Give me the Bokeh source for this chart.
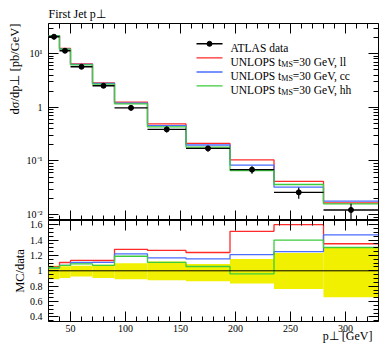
import glob
from bokeh.plotting import figure
from bokeh.layouts import column
from bokeh.models import (Range1d, LinearScale, LogAxis, LinearAxis, FixedTicker,
                          CustomJSTickFormatter, Label, Span, Title)
from bokeh.embed import file_html
from bokeh.resources import INLINE

# ---------------- data ----------------
bin_edges = [30, 40, 50, 70, 90, 120, 155, 195, 235, 280, 330]
atlas_data = [20.8, 11.4, 5.72, 2.53, 0.98, 0.389, 0.172, 0.0690, 0.0260, 0.0122]
atlas_err_up = [1.35, 0.68, 0.37, 0.197, 0.098, 0.0467, 0.0155, 0.0107, 0.0060, 0.0038]
atlas_err_dn = [2.29, 1.08, 0.43, 0.240, 0.108, 0.0475, 0.0232, 0.0114, 0.0062, 0.0042]
mc_ll = [21.84, 12.63, 6.49, 2.87, 1.254, 0.492, 0.213, 0.1045, 0.0416, 0.0165]
mc_cc = [21.63, 12.20, 6.34, 2.81, 1.196, 0.455, 0.1987, 0.0835, 0.0325, 0.0179]
mc_hh = [21.63, 12.20, 6.23, 2.71, 1.166, 0.432, 0.1816, 0.0662, 0.0364, 0.0159]
mc_series = [mc_ll, mc_cc, mc_hh]
mc_tags = ["ll", "cc", "hh"]
mc_colors = ["#ff2a2a", "#4a6cff", "#3ccc3c"]

x_major_ticks = [50, 100, 150, 200, 250, 300]
x_minor_ticks = [30, 40, 50, 60, 70, 80, 90, 100, 110, 120, 130, 140, 150, 160, 170, 180,
                 190, 200, 210, 220, 230, 240, 250, 260, 270, 280, 290, 300, 310, 320, 330]
y_major_ticks = [0.01, 0.1, 1, 10]
y_minor_ticks = [m * d for d in (0.001, 0.01, 0.1, 1, 10) for m in range(2, 10)]
ratio_major_ticks = [0.4, 0.6, 0.8, 1.0, 1.2, 1.4, 1.6]
ratio_minor_ticks = [0.35, 0.4, 0.45, 0.5, 0.55, 0.6, 0.65, 0.7, 0.75, 0.8, 0.85, 0.9, 0.95, 1.0,
                     1.05, 1.1, 1.15, 1.2, 1.25, 1.3, 1.35, 1.4, 1.45, 1.5, 1.55, 1.6, 1.65]

title_text = "First Jet p⊥"
ylabel_main = "dσ/dp⊥ [pb/GeV]"
ylabel_ratio = "MC/data"
xlabel_text = "p⊥ [GeV]"

# ---------------- style / layout ----------------
FONT = "Liberation Serif"
W = 382
BL, BR = 48, 4
H1, T1 = 220, 23
H2, B2 = 130, 29
FW = W - BL - BR
FH1 = H1 - T1
LEG_FS = 11.5
LEG_SUB = 8

def _find(name):
    hits = glob.glob("/usr/share/fonts/**/" + name, recursive=True)
    return hits[0] if hits else None

_fonts = {}
try:
    from PIL import ImageFont
    for key, fname in [("r", "LiberationSerif-Regular.ttf"), ("i", "LiberationSerif-Italic.ttf"),
                       ("s", "DejaVuSans.ttf")]:
        path = _find(fname)
        if path:
            _fonts[key] = ImageFont.truetype(path, 200)
except Exception:
    _fonts = {}

def tw(s, size, italic=False):
    total = 0.0
    for ch in s:
        key = "s" if ch in "⊥" else ("i" if italic else "r")
        f = _fonts.get(key) or _fonts.get("r")
        if f is not None:
            total += f.getlength(ch) * size / 200.0
        else:
            total += 0.5 * size
    return total

def place_runs(p, x, y, runs, align="left"):
    if align == "right":
        x -= sum(tw(t, s, it) for t, s, it, dy in runs)
    for t, s, it, dy in runs:
        p.add_layout(Label(x=x, y=y + dy, x_units="screen", y_units="screen", text=t,
                           text_font=FONT, text_font_size=f"{s}px",
                           text_font_style="italic" if it else "normal",
                           text_align="left", text_baseline="alphabetic", text_color="black"))
        x += tw(t, s, it)

log_fmt = CustomJSTickFormatter(code="""
const e = Math.round(Math.log10(tick));
if (e === 0) { return "1"; }
const m = {"-":"\\u207b","0":"\\u2070","1":"\\u00b9","2":"\\u00b2","3":"\\u00b3","4":"\\u2074",
           "5":"\\u2075","6":"\\u2076","7":"\\u2077","8":"\\u2078","9":"\\u2079"};
return "10" + String(e).split("").map(c => m[c]).join("");
""")
ratio_fmt = CustomJSTickFormatter(code="""
return Math.abs(tick - 1) < 1e-6 ? "1" : tick.toFixed(1);
""")

def style_axis(ax, ticker, labels=True, fmt=None):
    ax.ticker = ticker
    ax.axis_line_color = None
    ax.major_tick_in = 10
    ax.major_tick_out = 0
    ax.minor_tick_in = 5
    ax.minor_tick_out = 0
    ax.major_tick_line_color = "black"
    ax.minor_tick_line_color = "black"
    ax.major_tick_line_width = 1
    ax.minor_tick_line_width = 1
    if labels:
        ax.major_label_text_font = FONT
        ax.major_label_text_font_size = "10px"
        ax.major_label_text_color = "black"
        if fmt is not None:
            ax.formatter = fmt
    else:
        ax.major_label_text_font_size = "1px"
        ax.major_label_text_alpha = 0
        ax.major_label_standoff = 0

def make_title(text, align, standoff=0, offset=0, size="12.5px"):
    return Title(text=text, align=align, standoff=standoff, offset=offset, text_font=FONT,
                 text_font_size=size, text_font_style="normal", text_color="black")

# ---------------- main panel ----------------
p1 = figure(width=W, height=H1, y_axis_type="log", x_range=Range1d(30, 330),
            y_range=Range1d(0.00776, 36.7), output_backend="svg", toolbar_location=None,
            min_border_left=BL, min_border_right=BR, min_border_top=T1, min_border_bottom=0,
            extra_x_ranges={"px": Range1d(0, FW)}, extra_y_ranges={"px": Range1d(0, FH1)},
            extra_x_scales={"px": LinearScale()}, extra_y_scales={"px": LinearScale()})
p1.grid.visible = False
p1.outline_line_color = "black"
p1.outline_line_width = 1
p1.background_fill_color = "white"
p1.border_fill_color = "white"

style_axis(p1.xaxis[0], FixedTicker(ticks=x_major_ticks, minor_ticks=x_minor_ticks), labels=False)
style_axis(p1.yaxis[0], FixedTicker(ticks=y_major_ticks, minor_ticks=y_minor_ticks), fmt=log_fmt)
p1.yaxis[0].major_label_standoff = 6
ax_top = LinearAxis()
style_axis(ax_top, FixedTicker(ticks=x_major_ticks, minor_ticks=x_minor_ticks), labels=False)
p1.add_layout(ax_top, "above")
ax_right = LogAxis()
style_axis(ax_right, FixedTicker(ticks=y_major_ticks, minor_ticks=y_minor_ticks), labels=False)
p1.add_layout(ax_right, "right")

p1.title.text = title_text
p1.title.align = "left"
p1.title.text_font = FONT
p1.title.text_font_size = "12px"
p1.title.text_font_style = "normal"
p1.title.text_color = "black"
p1.title.standoff = 5
p1.title.offset = 0
p1.add_layout(make_title(ylabel_main, "right", standoff=3), "left")

lefts = bin_edges[:-1]
rights = bin_edges[1:]
centers = [(a + b) / 2 for a, b in zip(lefts, rights)]

for vals, col in zip(mc_series, mc_colors):
    p1.step(x=bin_edges, y=vals + [vals[-1]], mode="after", line_color=col, line_width=1.3)

p1.segment(x0=lefts, y0=atlas_data, x1=rights, y1=atlas_data, line_color="black", line_width=1.4)
p1.segment(x0=centers, x1=centers,
           y0=[d - e for d, e in zip(atlas_data, atlas_err_dn)],
           y1=[d + e for d, e in zip(atlas_data, atlas_err_up)],
           line_color="black", line_width=1.2)
p1.scatter(x=centers, y=atlas_data, size=5, marker="circle", fill_color="black", line_color="black")

# legend
leg_rows = [176.7, 162.7, 148.5, 134.7]
p1.segment(x0=[148], x1=[174], y0=[leg_rows[0]], y1=[leg_rows[0]], line_color="black",
           line_width=1.4, x_range_name="px", y_range_name="px")
p1.scatter(x=[161], y=[leg_rows[0]], size=5, fill_color="black", line_color="black",
           x_range_name="px", y_range_name="px")
place_runs(p1, 182, leg_rows[0] - 3.8, [("ATLAS data", LEG_FS, False, 0)])
for ry, col, tag in zip(leg_rows[1:], mc_colors, mc_tags):
    p1.segment(x0=[148], x1=[174], y0=[ry], y1=[ry], line_color=col, line_width=1.3,
               x_range_name="px", y_range_name="px")
    place_runs(p1, 182, ry - 3.8, [("UNLOPS t", LEG_FS, False, 0), ("MS", LEG_SUB, False, -2.5),
                                   ("=30 GeV, " + tag, LEG_FS, False, 0)])

# ---------------- ratio panel ----------------
p2 = figure(width=W, height=H2, x_range=Range1d(30, 330), y_range=Range1d(0.34, 1.655),
            output_backend="svg", toolbar_location=None,
            min_border_left=BL, min_border_right=BR, min_border_top=0, min_border_bottom=B2)
p2.grid.visible = False
p2.outline_line_color = "black"
p2.outline_line_width = 1
p2.background_fill_color = "white"
p2.border_fill_color = "white"

style_axis(p2.xaxis[0], FixedTicker(ticks=x_major_ticks, minor_ticks=x_minor_ticks))
p2.xaxis[0].major_label_standoff = 3
style_axis(p2.yaxis[0], FixedTicker(ticks=ratio_major_ticks, minor_ticks=ratio_minor_ticks), fmt=ratio_fmt)
p2.yaxis[0].major_label_standoff = 6
ax2_top = LinearAxis()
style_axis(ax2_top, FixedTicker(ticks=x_major_ticks, minor_ticks=x_minor_ticks), labels=False)
p2.add_layout(ax2_top, "above")
ax2_right = LinearAxis()
style_axis(ax2_right, FixedTicker(ticks=ratio_major_ticks, minor_ticks=ratio_minor_ticks), labels=False)
p2.add_layout(ax2_right, "right")
p2.add_layout(make_title(ylabel_ratio, "center", standoff=0), "left")
p2.add_layout(make_title(xlabel_text, "right", standoff=-15, offset=6, size="12px"), "below")

band_top = [1 + u / d for u, d in zip(atlas_err_up, atlas_data)]
band_bot = [1 - e / d for e, d in zip(atlas_err_dn, atlas_data)]
p2.quad(left=lefts, right=rights, bottom=band_bot, top=band_top, fill_color="#f0f000",
        line_color=None)
p2.add_layout(Span(location=1, dimension="width", line_color="black", line_width=1))
for vals, col in zip(mc_series, mc_colors):
    ratio = [m / d for m, d in zip(vals, atlas_data)]
    p2.step(x=bin_edges, y=ratio + [ratio[-1]], mode="after", line_color=col, line_width=1.3)

layout = column(p1, p2, spacing=0)
open("out.html", "w").write(file_html(layout, INLINE))
